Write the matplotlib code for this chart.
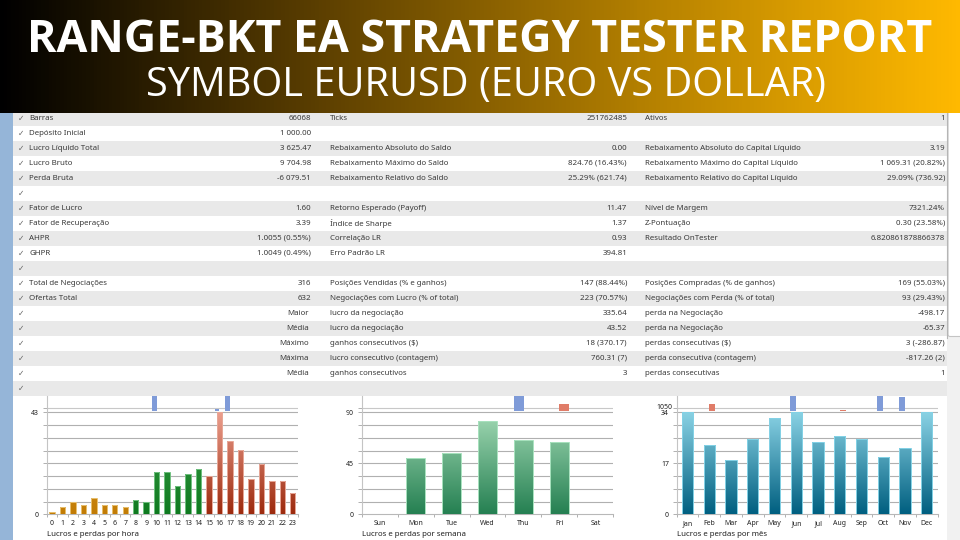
import numpy as np
import matplotlib
matplotlib.use('Agg')
import matplotlib.pyplot as plt
from matplotlib.colors import LinearSegmentedColormap
from matplotlib.patches import Rectangle, FancyBboxPatch

plt.rcParams['font.family'] = ['Noto Sans', 'DejaVu Sans']

# table columns, one list per column
labels_1 = ['Barras', 'Depósito Inicial', 'Lucro Líquido Total', 'Lucro Bruto', 'Perda Bruta', '',
            'Fator de Lucro', 'Fator de Recuperação', 'AHPR', 'GHPR', '',
            'Total de Negociações', 'Ofertas Total', '', '', '', '', '', '']
values_1 = ['66068', '1 000.00', '3 625.47', '9 704.98', '-6 079.51', '',
            '1.60', '3.39', '1.0055 (0.55%)', '1.0049 (0.49%)', '',
            '316', '632', 'Maior', 'Média', 'Máximo', 'Máxima', 'Média', '']
labels_2 = ['Ticks', '', 'Rebaixamento Absoluto do Saldo', 'Rebaixamento Máximo do Saldo',
            'Rebaixamento Relativo do Saldo', '', 'Retorno Esperado (Payoff)', 'Índice de Sharpe',
            'Correlação LR', 'Erro Padrão LR', '', 'Posições Vendidas (% e ganhos)',
            'Negociações com Lucro (% of total)', 'lucro da negociação', 'lucro da negociação',
            'ganhos consecutivos ($)', 'lucro consecutivo (contagem)', 'ganhos consecutivos', '']
values_2 = ['251762485', '', '0.00', '824.76 (16.43%)', '25.29% (621.74)', '',
            '11.47', '1.37', '0.93', '394.81', '', '147 (88.44%)', '223 (70.57%)',
            '335.64', '43.52', '18 (370.17)', '760.31 (7)', '3', '']
labels_3 = ['Ativos', '', 'Rebaixamento Absoluto do Capital Líquido', 'Rebaixamento Máximo do Capital Líquido',
            'Rebaixamento Relativo do Capital Líquido', '', 'Nível de Margem', 'Z-Pontuação',
            'Resultado OnTester', '', '', 'Posições Compradas (% de ganhos)',
            'Negociações com Perda (% of total)', 'perda na Negociação', 'perda na Negociação',
            'perdas consecutivas ($)', 'perda consecutiva (contagem)', 'perdas consecutivas', '']
values_3 = ['1', '', '3.19', '1 069.31 (20.82%)', '29.09% (736.92)', '',
            '7321.24%', '0.30 (23.58%)', '6.820861878866378', '', '', '169 (55.03%)', '93 (29.43%)',
            '-498.17', '-65.37', '3 (-286.87)', '-817.26 (2)', '1', '']

# charts
hours = [str(i) for i in range(24)]
hour_deals = [1, 3, 5, 4, 7, 4, 4, 3, 6, 5, 18, 18, 12, 17, 19, 16, 43, 31, 27, 15, 21, 14, 14, 9]
hour_profit = [0, 0, 0, 0, 0, 0, 0, 0, 0, 0, 6000, 0, 0, 0, 0, 0, 650, 6000, 0, 0, 0, 0, 0, 0]
hour_loss = [0] * 24

days = ['Sun', 'Mon', 'Tue', 'Wed', 'Thu', 'Fri', 'Sat']
day_deals = [0, 50, 54, 82, 66, 64, 0]
day_profit = [0, 0, 0, 0, 6000, 0, 0]
day_loss = [0, 0, 0, 0, 0, 2600, 0]

months = ['Jan', 'Feb', 'Mar', 'Apr', 'May', 'Jun', 'Jul', 'Aug', 'Sep', 'Oct', 'Nov', 'Dec']
month_deals = [34, 23, 18, 25, 32, 34, 24, 26, 25, 19, 22, 34]
month_profit = [0, 0, 0, 0, 0, 6000, 0, 0, 0, 6000, 5300, 0]
month_loss = [0, 2600, 0, 0, 0, 0, 0, 200, 0, 0, 0, 0]

W, H = 960, 540
TEXT = '#3a3a3a'
GRID = '#b0b0b0'

fig = plt.figure(figsize=(W / 100, H / 100), dpi=100, facecolor='#f1f1f1')

bg = fig.add_axes([0, 0, 1, 1], zorder=0)
bg.set_xlim(0, W)
bg.set_ylim(H, 0)
bg.axis('off')


def px_axes(left, top, right, bottom, zorder=2):
    return fig.add_axes([left / W, 1 - bottom / H, (right - left) / W, (bottom - top) / H], zorder=zorder)


# side strip, table stripes
bg.add_patch(Rectangle((0, 110), 13, 430, fc='#95b5d8', ec='none'))
bg.add_patch(Rectangle((13, 110), 934, 430, fc='white', ec='none'))
for k in range(19):
    y0 = 110.7 + 15 * k
    yc = y0 + 7.6
    if k % 2 == 0:
        bg.add_patch(Rectangle((13, y0), 934, 15, fc='#e9e9e9', ec='none'))
    bg.text(21, yc, '✓', fontsize=5.5, color='#666666', ha='center', va='center', family=['DejaVu Sans'])
    bg.text(29, yc, labels_1[k], fontsize=5.7, color=TEXT, va='center')
    bg.text(311 if k < 13 else 309, yc, values_1[k], fontsize=5.7, color=TEXT, va='center', ha='right')
    bg.text(330, yc, labels_2[k], fontsize=5.7, color=TEXT, va='center')
    bg.text(627, yc, values_2[k], fontsize=5.7, color=TEXT, va='center', ha='right')
    bg.text(645, yc, labels_3[k], fontsize=5.7, color=TEXT, va='center')
    bg.text(945, yc, values_3[k], fontsize=5.7, color=TEXT, va='center', ha='right')

# scrollbar
bg.plot([947, 947], [110, 338], color='#b5b5b5', lw=0.8)
bg.add_patch(FancyBboxPatch((948, 100), 20, 236.5, boxstyle='round,pad=0,rounding_size=2',
                            fc='white', ec='#c4c4c4', lw=0.8))

# header
header_cmap = LinearSegmentedColormap.from_list('header', ['#000000', '#5c3f00', '#b37f00', '#ffb900'])
bg.imshow(np.linspace(0, 1, 256).reshape(1, -1), extent=(0, W, 113, 0), cmap=header_cmap, aspect='auto', zorder=3)
bg.set_xlim(0, W)
bg.set_ylim(H, 0)
bg.text(480, 52, 'RANGE-BKT EA STRATEGY TESTER REPORT', color='white', fontsize=32.2, fontweight='bold',
        ha='center', va='baseline', zorder=4, family=['Open Sans'])
bg.text(486, 95.5, 'SYMBOL EURUSD (EURO VS DOLLAR)', color='white', fontsize=28.6,
        ha='center', va='baseline', zorder=4, family=['Open Sans'])


def gradient_bars(ax, x, vals, width, top, colors, edge):
    cmap = LinearSegmentedColormap.from_list('bar', colors)
    grad = np.linspace(0, 1, 128).reshape(-1, 1)
    bars = ax.bar(x, vals, width=width, fc='none', ec=edge, lw=0.7, zorder=4)
    for b in bars:
        if b.get_height() == 0:
            continue
        x0, x1 = b.get_x(), b.get_x() + b.get_width()
        im = ax.imshow(grad, extent=(x0, x1, 0, top), cmap=cmap, vmin=0, vmax=1, aspect='auto', zorder=3)
        im.set_clip_path(b)


def chart(left, right, names, deals, profit, loss, ymax, ticks, groups, side_w, off, caption, top_label=None):
    n = len(names)
    x = np.arange(n)
    # 0 sits at y=514.3, ymax at y=412.3, the axes carry on up to the row above
    ax = px_axes(left, 396, right, 514.3)
    ax.patch.set_alpha(0)
    for (a, b, colors, edge) in groups:
        gradient_bars(ax, x[a:b], deals[a:b], 0.52, ymax, colors, edge)
    ax.set_xlim(-0.5, n - 0.5)
    ax.set_ylim(0, ymax * 118.3 / 102)
    for i in range(1, 9):
        ax.axhline(ymax * i / 8, color=GRID, lw=0.8, zorder=1)
    ax.axhline(ymax * 1.042, color='#c8c8c8', lw=0.8, zorder=1)
    for s in ['top', 'right']:
        ax.spines[s].set_visible(False)
    ax.spines['left'].set_color('#c4c4c4')
    ax.spines['bottom'].set_color('#b8b8b8')
    ax.set_yticks(ticks)
    ax.set_yticks([ymax * i / 8 for i in range(9)] + [ymax * 1.042], minor=True)
    ax.tick_params(axis='y', which='both', length=3, color=GRID, width=0.7)
    ax.tick_params(axis='y', which='major', labelsize=5, labelcolor='#222222', pad=2.5)
    ax.set_xticks(x)
    ax.set_xticklabels(names)
    ax.set_xticks(np.arange(n + 1) - 0.5, minor=True)
    ax.tick_params(axis='x', which='major', length=0, labelsize=5, labelcolor='#222222', pad=4)
    ax.tick_params(axis='x', which='minor', length=2.5, color=GRID, width=0.7)

    # profit / loss strip above the deals
    st = px_axes(left, 396, right, 410.7, zorder=3)
    st.patch.set_alpha(0)
    st.axis('off')
    st.bar(x - off, profit, width=side_w, color='#7f9bd8', zorder=3)
    st.bar(x + off, loss, width=side_w, color='#e07c68', zorder=3)
    st.set_xlim(-0.5, n - 0.5)
    st.set_ylim(0, 5700)
    if top_label:
        bg.text(left - 4.5, 407.5, top_label, fontsize=5, color='#222222', ha='right', va='center', zorder=2)
    bg.text(left, 534.5, caption, fontsize=5.7, color='#222222', va='center')


chart(46.7, 298, hours, hour_deals, hour_profit, hour_loss, 43, [0, 43],
      [(0, 8, ['#e2a53a', '#c27c05'], '#e8c070'),
       (8, 15, ['#3fa04a', '#0f7a20'], '#70c080'),
       (15, 24, ['#ec9f8e', '#9c2a0e'], '#e8a898')],
      0.44, 0.22, 'Lucros e perdas por hora')
chart(361.7, 613.3, days, day_deals, day_profit, day_loss, 90, [0, 45, 90],
      [(0, 7, ['#a2d9b4', '#258052'], '#a8e2be')],
      0.28, 0.135, 'Lucros e perdas por semana')
chart(676.7, 937.7, months, month_deals, month_profit, month_loss, 34, [0, 17, 34],
      [(0, 12, ['#8ad2e4', '#005f80'], '#84d2e6')],
      0.28, 0.14, 'Lucros e perdas por mês', top_label='1050')

fig.savefig('out.png', dpi=100)
